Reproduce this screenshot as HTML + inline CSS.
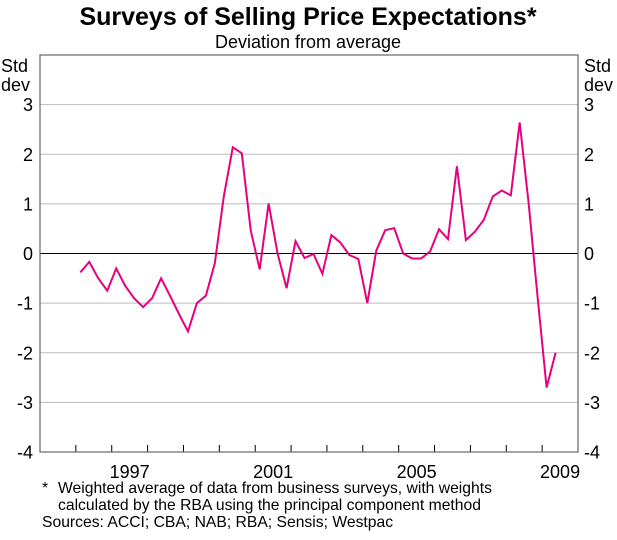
<!DOCTYPE html>
<html><head><meta charset="utf-8"><style>
body{margin:0;background:#fff;}
svg text{font-family:"Liberation Sans",Arial,sans-serif;fill:#000;}
</style></head><body>
<svg width="617" height="535" viewBox="0 0 617 535">
<text x="308" y="25" text-anchor="middle" font-size="25" font-weight="bold">Surveys of Selling Price Expectations*</text>
<text x="308" y="48" text-anchor="middle" font-size="18">Deviation from average</text>
<text x="1" y="72" font-size="18">Std</text>
<text x="1" y="91" font-size="18">dev</text>
<text x="584" y="72" font-size="18">Std</text>
<text x="584" y="91" font-size="18">dev</text>
<g id="grid"></g>
<g id="ticks"></g>
<g id="labels"></g>
<polyline id="series" fill="none" stroke="#e6007e" stroke-width="2" stroke-linejoin="miter"/>
<rect x="40" y="55" width="538" height="397" fill="none" stroke="#666" stroke-width="1.2"/>
<text x="42" y="493" font-size="15.7">*</text>
<text x="58" y="493" font-size="15.7">Weighted average of data from business surveys, with weights</text>
<text x="58" y="510" font-size="15.7">calculated by the RBA using the principal component method</text>
<text x="42" y="527" font-size="15.7">Sources: ACCI; CBA; NAB; RBA; Sensis; Westpac</text>
</svg>
<script>
const startYear = 1996;
const values = [-0.38,-0.17,-0.5,-0.75, -0.3,-0.65,-0.9,-1.08, -0.9,-0.5,-0.85,-1.22, -1.57,-1.0,-0.85,-0.2,
 1.15,2.14,2.02,0.47, -0.32,1.01,0.0,-0.7, 0.25,-0.09,-0.01,-0.41, 0.37,0.22,-0.03,-0.11,
 -1.0,0.06,0.47,0.51, 0.0,-0.1,-0.1,0.04, 0.49,0.29,1.76,0.27, 0.44,0.68,1.15,1.27,
 1.17,2.64,1.0,-0.9, -2.7,-2.0];
const yTicks = [3,2,1,0,-1,-2,-3,-4];
const xLabels = [1997,2001,2005,2009];
const ns='http://www.w3.org/2000/svg';
const X0=40,X1=578,Y0=55,Y1=452,xmin=1995,xmax=2010,ymin=-4,ymax=4;
const xs=t=>X0+(t-xmin)/(xmax-xmin)*(X1-X0);
const ys=v=>Y1-(v-ymin)/(ymax-ymin)*(Y1-Y0);
function mk(tag,a,p){const e=document.createElementNS(ns,tag);for(const k in a)e.setAttribute(k,a[k]);p.appendChild(e);return e;}
const grid=document.getElementById('grid'),ticks=document.getElementById('ticks'),labels=document.getElementById('labels');
yTicks.forEach(v=>{
  if(v>ymin&&v<ymax){const l=mk('line',{x1:X0,x2:X1,y1:ys(v),y2:ys(v),stroke:v===0?'#000':'#bbb','stroke-width':1},grid);
  
  }
  const a=mk('text',{x:33,y:ys(v)+6.5,'text-anchor':'end','font-size':18},labels);a.textContent=v;
  
  
  const b=mk('text',{x:584,y:ys(v)+6.5,'font-size':18},labels);b.textContent=v;
  
  
});
for(let y=xmin+1;y<xmax;y++){const t=mk('line',{x1:xs(y),x2:xs(y),y1:Y1,y2:Y1-7,stroke:'#000','stroke-width':1},ticks);
  
  }
xLabels.forEach(y=>{const t=mk('text',{x:xs(y+0.5),y:478,'text-anchor':'middle','font-size':18},labels);t.textContent=y;
  
  });
document.getElementById('series').setAttribute('points',values.map((v,i)=>xs(startYear+i/4+0.125).toFixed(1)+','+ys(v).toFixed(1)).join(' '));
</script>
</body></html>
